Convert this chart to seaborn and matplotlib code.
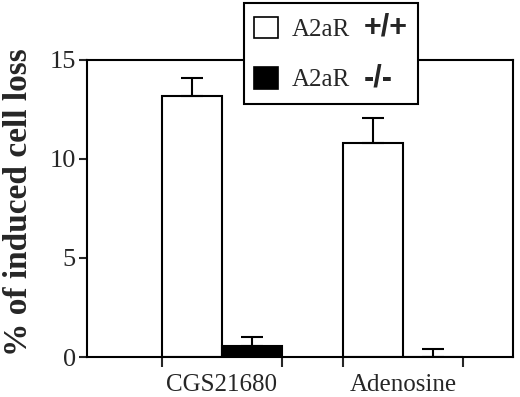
import numpy as np
import pandas as pd
import seaborn as sns
import matplotlib.pyplot as plt
from matplotlib.patches import Patch
from matplotlib.offsetbox import TextArea

# =============================================================================
# Data
# =============================================================================

categories = ["CGS21680", "Adenosine"]
genotypes = ["+/+", "-/-"]
wt_mean = [13.2, 10.8]
wt_sem = [0.9, 1.25]
ko_mean = [0.55, 0.0]
ko_sem = [0.45, 0.4]

df = pd.DataFrame({
    "treatment": categories * 2,
    "genotype": [genotypes[0]] * 2 + [genotypes[1]] * 2,
    "loss": wt_mean + ko_mean,
    "sem": wt_sem + ko_sem,
})

# =============================================================================
# Plot
# =============================================================================

sns.set_style("ticks")
plt.rcParams["font.family"] = ["Liberation Serif", "DejaVu Serif"]
plt.rcParams["axes.linewidth"] = 1.5

fig = plt.figure(figsize=(5.2, 3.97), dpi=100)
ax = fig.add_axes([0.167, 0.1007, 0.82, 0.7483])

group_w = 0.663
sns.barplot(
    data=df, x="treatment", y="loss", hue="genotype",
    order=categories, hue_order=genotypes,
    palette=["white", "black"], edgecolor="black", linewidth=1.5,
    width=group_w, errorbar=None, legend=False, ax=ax,
)

# upper-only error bars placed on the drawn bars
for cont, g in zip(ax.containers, genotypes):
    sub = df[df["genotype"] == g].set_index("treatment").loc[categories]
    xs = [p.get_x() + p.get_width() / 2 for p in cont.patches]
    ax.errorbar(xs, sub["loss"], yerr=[np.zeros(len(xs)), sub["sem"]],
                fmt="none", ecolor="black", elinewidth=1.5, capsize=8,
                capthick=1.5, zorder=3)

ax.set_ylim(0, 15)
ax.set_xlim(-0.746, 1.608)
ax.set_yticks([0, 5, 10, 15])
ax.tick_params(axis="y", direction="out", length=6, width=1.5,
               labelsize=19, pad=2)
ax.set_xticks([0, 1])
ax.set_xticklabels(categories)
ax.tick_params(axis="x", which="major", length=0, labelsize=18, pad=12)
ax.set_xticks([-group_w / 2, group_w / 2, 1 - group_w / 2, 1 + group_w / 2],
              minor=True)
ax.tick_params(axis="x", which="minor", direction="out", length=7, width=1.5)
for s in ax.spines.values():
    s.set_visible(True)
    s.set_color("black")
ax.set_xlabel("")
ax.set_ylabel("% of induced cell loss", fontsize=24, fontweight="bold")
ax.yaxis.set_label_coords(-0.125, 0.52)

handles = [Patch(facecolor="white", edgecolor="black", linewidth=1.2),
           Patch(facecolor="black", edgecolor="black", linewidth=1.2)]
leg = fig.legend(handles, ["A2aR", "A2aR"],
                 loc="upper center", bbox_to_anchor=(331 / 520, 1 - 3 / 397),
                 fontsize=18, frameon=True, fancybox=False,
                 edgecolor="black", framealpha=1, handlelength=0.95,
                 handleheight=0.95, labelspacing=0.82, borderpad=0.4,
                 handletextpad=0.55, borderaxespad=0)
leg.get_frame().set_linewidth(1.5)

# genotype marks in bold sans, appended to each legend row
rows = leg._legend_handle_box.get_children()[0].get_children()
for row, g in zip(rows, genotypes):
    ta = TextArea(g, textprops=dict(fontsize=22, fontweight="bold",
                                    family=["Liberation Sans", "DejaVu Sans"]))
    ta.set_figure(fig)
    row.get_children().append(ta)

plt.savefig("out.png", dpi=100)
